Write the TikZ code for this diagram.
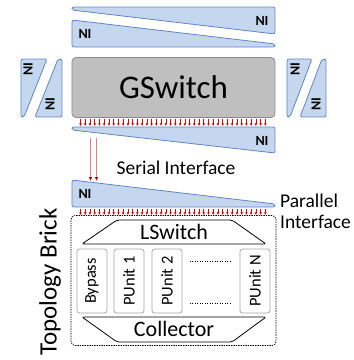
\documentclass[tikz,border=0pt]{standalone}
\usepackage{fontspec}
\setmainfont{Carlito}
\usetikzlibrary{arrows.meta}

\definecolor{niblue}{RGB}{197,215,238}
\definecolor{niedge}{RGB}{96,134,196}
\definecolor{swgray}{RGB}{191,191,191}
\definecolor{swedge}{RGB}{140,140,140}
\definecolor{unitedge}{RGB}{166,166,166}
\definecolor{arrred}{RGB}{215,0,0}
\definecolor{serline}{RGB}{230,128,130}

\tikzset{
	ni/.style={draw=niedge,fill=niblue,line width=0.8pt,rounded corners=2pt,line join=round},
	nilabel/.style={font=\fontsize{14}{14}\selectfont\bfseries,inner sep=0pt},
	gbox/.style={draw=swedge,fill=swgray,rounded corners=4pt,line width=0.8pt,inner sep=0pt,font=\fontsize{33}{33}\selectfont},
	parr/.style={draw=arrred,line width=0.5pt,-{Latex[length=2.6pt,width=2.6pt]}},
	serarr/.style={draw=serline,line width=1pt,-{Latex[length=4pt,width=3.6pt,color=arrred!85!black]}},
	iflabel/.style={font=\fontsize{19.5}{21}\selectfont,inner sep=0pt},
	brick/.style={draw,line width=0.7pt,dash pattern=on 1.4pt off 1pt,rounded corners=4pt},
	trap/.style={draw,line width=0.8pt,fill=white,rounded corners=2pt,line join=round},
	traplabel/.style={font=\fontsize{22}{22}\selectfont,inner sep=0pt},
	unit/.style={draw=unitedge,fill=white,line width=0.8pt,rounded corners=2.5pt,rotate=90,
		minimum width=64pt,minimum height=30pt,inner sep=0pt,font=\fontsize{16.5}{16.5}\selectfont},
}

\begin{document}
\begin{tikzpicture}[x=1pt,y=-1pt]
	\useasboundingbox (0,0) rectangle (354,360);

	% NI pair above the GSwitch
	\draw[ni] (72,7) -- (275,7) -- (275,34) -- (72,10) -- cycle;
	\draw[ni] (72,20) -- (275,44) -- (275,47) -- (72,47) -- cycle;
	\node[nilabel] (nitopa) at (262,21) {NI};
	\node[nilabel] (nitopb) at (85,34) {NI};

	% NI pairs left and right
	\draw[ni] (21,59) -- (47,59) -- (24,117) -- (21,117) -- cycle;
	\draw[ni] (58,59) -- (62,59) -- (62,117) -- (35,117) -- cycle;
	\node[nilabel,rotate=90] (nilefta) at (28,69) {NI};
	\node[nilabel,rotate=90] (nileftb) at (50,104) {NI};
	\draw[ni] (287,59) -- (312,59) -- (290,117) -- (287,117) -- cycle;
	\draw[ni] (322,59) -- (326,59) -- (326,117) -- (300,117) -- cycle;
	\node[nilabel,rotate=90] (nirighta) at (295,69) {NI};
	\node[nilabel,rotate=90] (nirightb) at (316,104) {NI};

	% global switch
	\node[gbox,minimum width=203pt,minimum height=60pt] (gsw) at (173.5,87.5) {GSwitch};

	% parallel link GSwitch -> NI
	\foreach \i in {0,...,39}
		\draw[parr] (80.5+\i*4.74,118.5) -- (80.5+\i*4.74,126);

	% NI below the GSwitch
	\draw[ni] (72,127) -- (275,127) -- (275,153) -- (72,130) -- cycle;
	\node[nilabel] (nimid) at (262,141) {NI};

	% serial interface
	\coordinate (sera) at (90.5,138);
	\coordinate (serb) at (96.5,138);
	\coordinate (sera') at (90.5,181);
	\coordinate (serb') at (96.5,181);
	\draw[serarr] (sera) -- (sera');
	\draw[serarr] (serb) -- (serb');
	\node[iflabel] (serial) at (176,168) {Serial Interface};

	% NI of the brick
	\draw[ni] (72,180) -- (275,204) -- (275,207) -- (72,207) -- cycle;
	\node[nilabel] (nibrick) at (85,194) {NI};
	\node[iflabel,anchor=west,align=left] (parallel) at (280,211) {Parallel\\Interface};

	% parallel link NI -> brick
	\foreach \i in {0,...,39}
		\draw[parr] (80.5+\i*4.74,208.5) -- (80.5+\i*4.74,215);

	% topology brick
	\node[brick,minimum width=205pt,minimum height=130pt] (brick) at (173.5,280.5) {};
	\node[font=\fontsize{25}{25}\selectfont,inner sep=0pt,rotate=90] (tb) at (50,282) {Topology Brick};

	\draw[trap] (117,220) -- (232,220) -- (266,244) -- (82,244) -- cycle;
	\node[traplabel] (lsw) at (174,232) {LSwitch};
	\draw[trap] (82,317) -- (266,317) -- (232,342) -- (117,342) -- cycle;
	\node[traplabel] (coll) at (174,329) {Collector};

	\node[unit] (bypass) at (92,281) {Bypass};
	\node[unit] (pu1) at (129,281) {PUnit 1};
	\node[unit] (pu2) at (167,281) {PUnit 2};
	\node[unit] (pun) at (255,281) {PUnit N};
	\draw[line width=0.5pt,dotted] (190,261) -- (232,261);
	\draw[line width=0.5pt,dotted] (190,303) -- (232,303);
\end{tikzpicture}
\end{document}
